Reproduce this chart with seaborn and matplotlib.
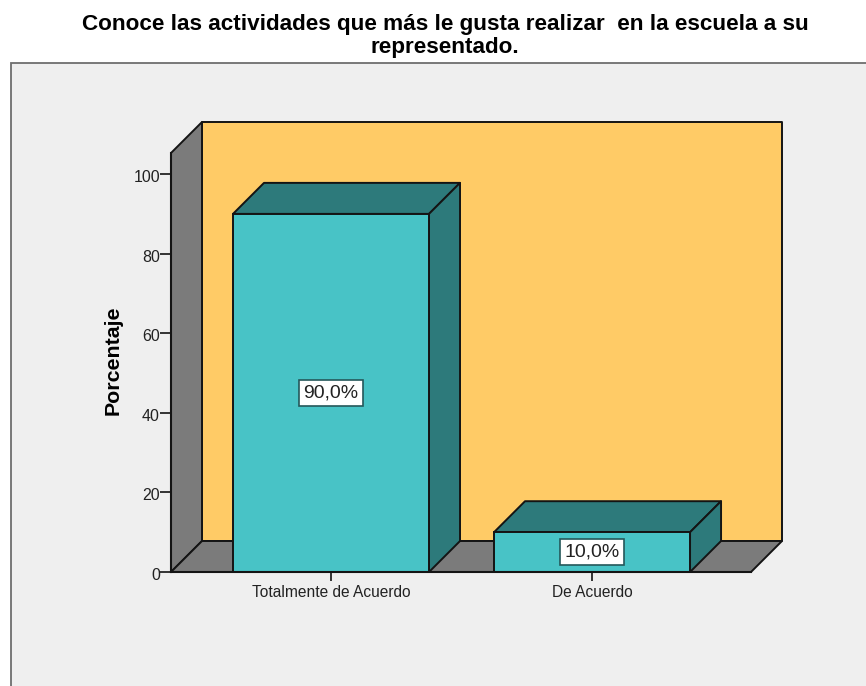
import matplotlib
matplotlib.use("Agg")
import matplotlib.pyplot as plt
from matplotlib.patches import Polygon, Rectangle
from matplotlib.transforms import ScaledTranslation
import seaborn as sns

categories = ["Totalmente de Acuerdo", "De Acuerdo"]
porcentajes = [90.0, 10.0]
etiquetas = ["90,0%", "10,0%"]
y_ticks = [0, 20, 40, 60, 80, 100]

titulo = "Conoce las actividades que más le gusta realizar  en la escuela a su\nrepresentado."
y_label = "Porcentaje"

# colours of the chart
BAR = "#48c3c6"
BAR_DARK = "#2d7a7b"
WALL = "#ffcb66"
GREY = "#7b7b7b"
PANEL = "#efefef"
LINE = "#141414"

W, H = 866, 686
DEPTH = 31  # px of the fake 3D offset

sns.set_style("white")
plt.rcParams["font.family"] = ["Liberation Sans", "DejaVu Sans"]

fig = plt.figure(figsize=(W / 100, H / 100), dpi=100, facecolor="white")

# Grey panel behind the chart, open at the right and bottom edge
fig.patches.append(Rectangle((11 / W, -0.02), 1.02, (H - 63) / H + 0.02, transform=fig.transFigure,
                             facecolor=PANEL, edgecolor="#6e6e6e", linewidth=1.3, zorder=-5))

ax = fig.add_axes([171 / W, (H - 572) / H, 580 / W, 419 / H])
ax.patch.set_alpha(0)

sns.barplot(x=categories, y=porcentajes, color=BAR, saturation=1, width=0.751,
            edgecolor=LINE, linewidth=1.4, ax=ax, zorder=5)

ax.set_xlim(-0.613, 1.609)
ax.set_ylim(0, 105.3)
ax.set_yticks(y_ticks)

# depth in data units
dx = DEPTH / 580 * (ax.get_xlim()[1] - ax.get_xlim()[0])
dy = DEPTH / 419 * (ax.get_ylim()[1] - ax.get_ylim()[0])


def face(points, color, z):
    ax.add_patch(Polygon(points, closed=True, facecolor=color, edgecolor=LINE,
                         linewidth=1.4, clip_on=False, zorder=z, joinstyle="round"))


x0, x1 = ax.get_xlim()
y0, y1 = ax.get_ylim()

# back wall, left wall and floor
face([(x0 + dx, y0 + dy), (x1 + dx, y0 + dy), (x1 + dx, y1 + dy), (x0 + dx, y1 + dy)], WALL, 1)
face([(x0, y0), (x0 + dx, y0 + dy), (x0 + dx, y1 + dy), (x0, y1)], GREY, 2)
face([(x0, y0), (x1, y0), (x1 + dx, y0 + dy), (x0 + dx, y0 + dy)], GREY, 2)

# top and side of each bar, taken from the bars seaborn drew
for bar, etiqueta in zip(ax.patches[:len(categories)], etiquetas):
    left = bar.get_x()
    right = left + bar.get_width()
    top = bar.get_height()
    bar.set_clip_on(False)
    face([(left, top), (right, top), (right + dx, top + dy), (left + dx, top + dy)], BAR_DARK, 4)
    face([(right, 0), (right, top), (right + dx, top + dy), (right + dx, dy)], BAR_DARK, 4)
    ax.text((left + right) / 2, top / 2, etiqueta, ha="center", va="center", fontsize=14,
            color="#222222", zorder=7,
            bbox=dict(boxstyle="square,pad=0.24", facecolor="white", edgecolor="#24585a", linewidth=1.2))

sns.despine(ax=ax, top=True, right=True)
for side in ["left", "bottom"]:
    ax.spines[side].set_color(LINE)
    ax.spines[side].set_linewidth(1.5)
    ax.spines[side].set_zorder(6)

ax.tick_params(axis="y", length=8, width=1.2, color=LINE, labelsize=11.5, labelcolor="#222222",
               pad=0, left=True)
ax.tick_params(axis="x", length=6.5, width=1.2, color=LINE, labelsize=11.2, labelcolor="#222222",
               pad=3, bottom=True)

# tick numbers sit a little under their tick in the reference
shift = ScaledTranslation(0, -2 / 100, fig.dpi_scale_trans)
for lab in ax.get_yticklabels():
    lab.set_transform(lab.get_transform() + shift)

ax.set_ylabel(y_label, fontsize=15.4, fontweight="bold", color="black", labelpad=0)
ax.yaxis.set_label_coords(-48 / 580, (572 - 360) / 419)

fig.text(445 / W, 1 - 36 / H, titulo, ha="center", va="center", fontsize=16.2, fontweight="bold",
         color="black", linespacing=1.1)

fig.savefig("out.png", dpi=100)
